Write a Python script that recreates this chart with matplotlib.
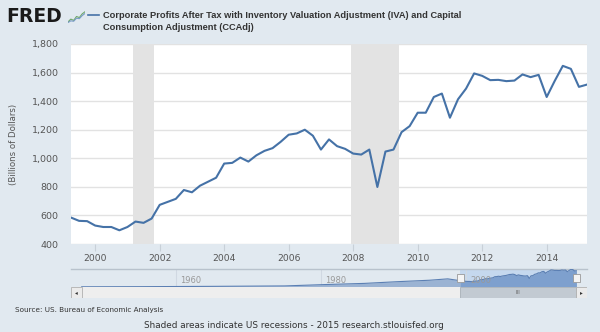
import numpy as np
import matplotlib
matplotlib.use("Agg")
import matplotlib.pyplot as plt
from matplotlib.patches import Rectangle

# quarterly data, 1999Q2 .. 2015Q2 (billions of dollars)
start_year = 1999
start_q = 2
profits = [585, 562, 560, 529, 519, 519, 496, 519, 557, 548, 578, 674,
           695, 716, 778, 762, 808, 836, 864, 963, 968, 1005, 977, 1021,
           1052, 1071, 1115, 1165, 1174, 1200, 1158, 1061, 1132, 1085, 1066, 1033,
           1026, 1061, 799, 1047, 1061, 1183, 1225, 1319, 1319, 1429, 1453, 1284,
           1413, 1488, 1594, 1577, 1547, 1549, 1540, 1544, 1587, 1568, 1584, 1429,
           1542, 1647, 1626, 1500, 1516]
dates = [start_year + (start_q - 1 + i) / 4 for i in range(len(profits))]

# recessions (decimal years)
recessions = [(2001.17, 2001.83), (2007.92, 2009.42)]

# coarse long history for the navigator strip
hist_years = [1947, 1955, 1965, 1975, 1981, 1986, 1990.5, 1995, 1997.5]
hist_vals = [20, 30, 60, 100, 237, 336, 494, 632, 760]

yticks = [400, 600, 800, 1000, 1200, 1400, 1600, 1800]
xticks = [2000, 2002, 2004, 2006, 2008, 2010, 2012, 2014]
nav_ticks = [1960, 1980, 2000]

bg = "#E1E9F0"
blue = "#4572A7"
W, H = 600, 332

def box(x0, y0, x1, y1):
    # pixel box (top-left origin) -> figure fraction rect
    return [x0 / W, (H - y1) / H, (x1 - x0) / W, (y1 - y0) / H]

fig = plt.figure(figsize=(6, 3.32), dpi=100, facecolor=bg)

# main plot
ax = fig.add_axes(box(71, 44, 587, 244))
ax.set_facecolor("white")
for a, b in recessions:
    ax.axvspan(a, b, color="#E3E3E3", lw=0, zorder=1)
for v in yticks:
    ax.axhline(v, color="#E2E2E2", lw=1, zorder=0.5)
ax.plot(dates, profits, color=blue, lw=1.5, zorder=3)
ax.set_xlim(1999.25, 2015.25)
ax.set_ylim(400, 1800)
ax.set_yticks(yticks)
ax.set_yticklabels([f"{v:,}" for v in yticks])
ax.set_xticks(xticks)
ax.set_xticklabels([str(v) for v in xticks])
ax.tick_params(axis="y", length=0, pad=9, labelsize=6.8, labelcolor="#555555")
ax.tick_params(axis="x", length=5, width=0.8, color="#C8D0D8", pad=2,
               labelsize=6.6, labelcolor="#555555")
for s in ax.spines.values():
    s.set_visible(False)
ax.set_ylabel("(Billions of Dollars)", fontsize=6.2, color="#555555", labelpad=10)

# navigator
nav = fig.add_axes(box(71, 269, 587, 287))
nav.set_facecolor(bg)
nx0, nx1 = 1945.52, 2016.72
nav.set_xlim(nx0, nx1)
top = max(profits) * 1.02
nav.set_ylim(0, top)
nav_x = hist_years + dates
nav_y = hist_vals + profits
nav.axvspan(dates[0], dates[-1], color="#C5D8EE", lw=0, zorder=0)
for t in nav_ticks:
    nav.axvline(t, color="#D0D8E2", lw=0.8, zorder=0.5)
    nav.text(t + 0.6, top * 0.35, str(t), fontsize=6, color="#999999", va="center", zorder=4)
nav.fill_between(nav_x, nav_y, color="#9BB3D3", lw=0, zorder=1)
sel = [d >= dates[0] for d in nav_x]
nav.fill_between(nav_x, nav_y, where=sel, color="#7EA0CE", lw=0, zorder=2)
nav.plot(nav_x, nav_y, color="#5B7FB3", lw=0.8, zorder=3)
for d in (dates[0], dates[-1]):
    nav.add_patch(Rectangle((d - 0.45, top * 0.3), 0.9, top * 0.45, facecolor="#F4F4F4",
                            edgecolor="#999999", lw=0.6, zorder=5))
nav.set_xticks([])
nav.set_yticks([])
for s in nav.spines.values():
    s.set_visible(False)
nav.spines["top"].set_visible(True)
nav.spines["top"].set_color("#B8C2CC")
nav.spines["top"].set_linewidth(1)

# scrollbar
sb = fig.add_axes(box(71, 287, 587, 298))
sb.set_xlim(nx0, nx1)
sb.set_ylim(0, 1)
sb.set_facecolor("#EEEEEE")
sb.add_patch(Rectangle((dates[0] - 0.1, 0), dates[-1] - dates[0] + 0.1, 1,
                       facecolor="#C2CAD2", edgecolor="#A8B0B8", lw=0.6))
sb.text((dates[0] + dates[-1]) / 2, 0.5, "III", fontsize=4, color="#666666",
        ha="center", va="center")
btn = 10.7 / 7.25
sb.add_patch(Rectangle((nx0, 0), btn, 1, facecolor="#EBEBEB", edgecolor="#B0B0B0", lw=0.6))
sb.add_patch(Rectangle((nx1 - btn, 0), btn, 1, facecolor="#EBEBEB", edgecolor="#B0B0B0", lw=0.6))
sb.text(nx0 + btn / 2, 0.5, "◂", fontsize=4, color="#333333", ha="center", va="center")
sb.text(nx1 - btn / 2, 0.5, "▸", fontsize=4, color="#333333", ha="center", va="center")
sb.set_xticks([])
sb.set_yticks([])
for s in sb.spines.values():
    s.set_visible(False)

# header
fig.text(6 / W, 1 - 16.5 / H, "FRED", fontsize=13.5, fontweight="heavy", color="#1A1A1A",
         va="center", ha="left")
icon = fig.add_axes(box(68, 10, 85, 23))
icon.set_xlim(0, 6)
icon.set_ylim(0, 6)
icon.plot([0, 1, 2, 3, 4, 5, 6], [0.5, 1.8, 1.2, 3, 2.5, 4.2, 5.2], color="#6FA86B", lw=0.8)
icon.plot([0, 1, 2, 3, 4, 5, 6], [0.2, 1.0, 0.8, 2.2, 2.0, 3.4, 4.4], color="#7A9CC8", lw=0.8)
icon.axis("off")

fig.lines.append(plt.Line2D([88 / W, 99 / W], [1 - 15 / H, 1 - 15 / H],
                            transform=fig.transFigure, color=blue, lw=1.2))
title_font = dict(family="Liberation Sans", fontsize=6.7, fontweight="bold", color="#333333",
                  va="center", ha="left")
fig.text(103 / W, 1 - 15 / H,
         "Corporate Profits After Tax with Inventory Valuation Adjustment (IVA) and Capital",
         **title_font)
fig.text(103 / W, 1 - 28 / H, "Consumption Adjustment (CCAdj)", **title_font)

# footer
fig.text(15 / W, 1 - 310 / H, "Source: US. Bureau of Economic Analysis", fontsize=5.2,
         color="#333333", va="center", ha="left")
fig.text(294 / W, 1 - 325 / H,
         "Shaded areas indicate US recessions - 2015 research.stlouisfed.org",
         fontsize=6.4, color="#333333", va="center", ha="center")

fig.savefig("out.png", dpi=100, facecolor=bg)
